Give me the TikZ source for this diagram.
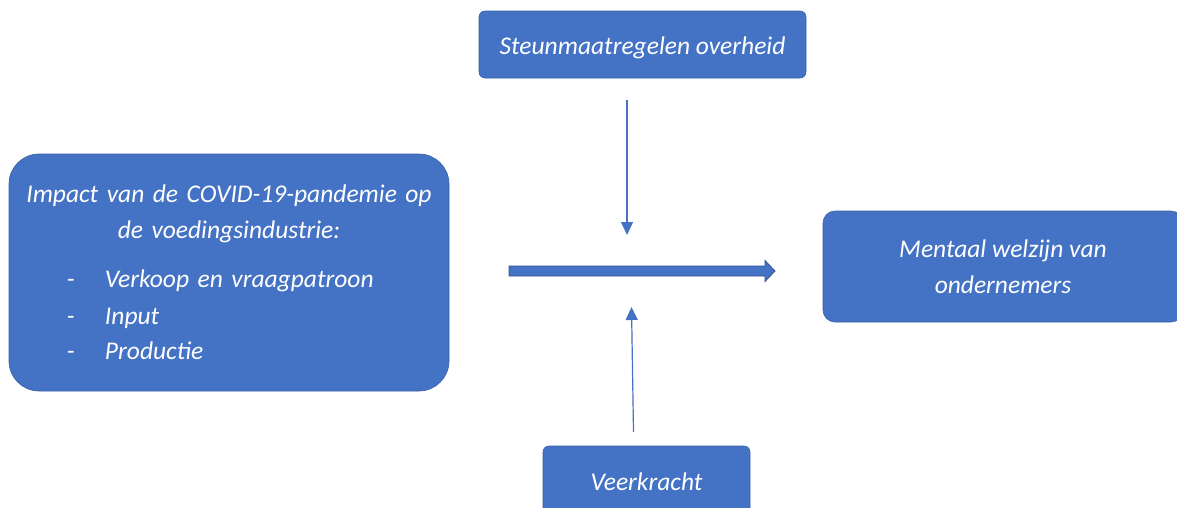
\documentclass[tikz,border=0pt]{standalone}
\usepackage{fontspec}
\setmainfont{Carlito}
\usepackage{xcolor}
\usetikzlibrary{positioning,calc,arrows.meta}
\definecolor{boxblue}{HTML}{4472C4}
\definecolor{edgeblue}{HTML}{2F528F}

\begin{document}
\begin{tikzpicture}[x=1pt,y=-1pt,
  box/.style={fill=boxblue,draw=edgeblue!60!boxblue,line width=0.6pt,text=white,
    font=\fontsize{25.5}{35.5}\selectfont\itshape,align=center,inner sep=0pt},
  thinarrow/.style={draw=boxblue,line width=1.2pt,-{Triangle[length=13pt,width=12pt]}},
  bigarrow/.style={fill=boxblue,draw=edgeblue,line width=0.8pt,line join=miter}]
  \path[use as bounding box,clip] (0,0) rectangle (1177,507);
  % boxes
  \node[box,rounded corners=6pt,minimum width=327pt,minimum height=67pt,text height=20pt,text depth=0pt] (steun) at (642.5,44.5) {Steunmaatregelen overheid};
  \node[box,rounded corners=30pt,minimum width=440pt,minimum height=237pt,text width=440pt,align=left] (impact) at (229,272.5)
    {{\centering Impact van de COVID-19-pandemie op\\ de voedingsindustrie:\par}
     \vspace{14pt}
     \hspace*{58pt}\makebox[38pt][l]{-}Verkoop en vraagpatroon\\[0.8pt]
     \hspace*{58pt}\makebox[38pt][l]{-}Input\\
     \hspace*{58pt}\makebox[38pt][l]{-}Productie};
  \node[box,rounded corners=12pt,minimum width=360pt,minimum height=111pt] (welzijn) at (1003,266.5) {Mentaal welzijn van\\ ondernemers};
  \node[box,rounded corners=6pt,minimum width=207pt,minimum height=72pt] (veer) at (646.5,482) {Veerkracht};
  % arrows
  \coordinate (ms) at (509,271);
  \coordinate (me) at (775,271);
  \draw[bigarrow] ($(ms)+(0,-5)$) -- ($(me)+(-10,-5)$) -- ($(me)+(-10,-10.5)$) -- (me)
    -- ($(me)+(-10,10.5)$) -- ($(me)+(-10,5)$) -- ($(ms)+(0,5)$) -- cycle;
  \coordinate (dtop) at (627,100);
  \coordinate (dtip) at (627,235);
  \draw[thinarrow] (dtop) -- (dtip);
  \coordinate (ubot) at (633.5,432);
  \coordinate (utip) at (631.5,307);
  \draw[thinarrow] (ubot) -- (utip);
\end{tikzpicture}
\end{document}
